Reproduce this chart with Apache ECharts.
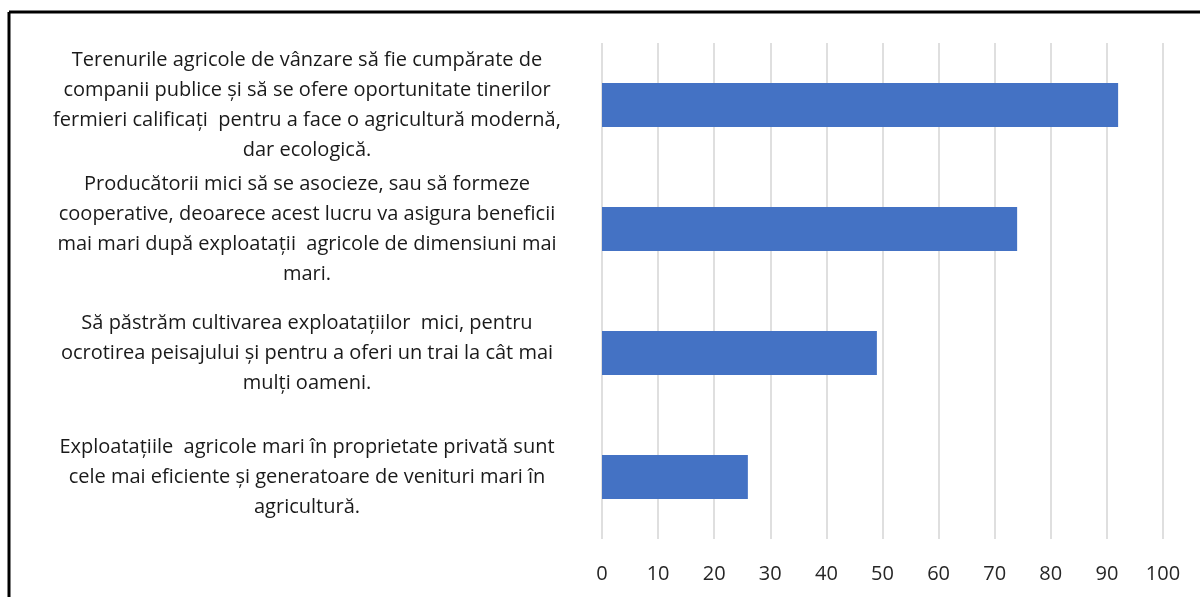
<!DOCTYPE html>
<html>
<head>
<meta charset="utf-8">
<script src="https://cdn.jsdelivr.net/npm/echarts@6/dist/echarts.min.js"></script>
<style>
  html, body { margin: 0; padding: 0; background: #fff; }
  #chart { width: 1200px; height: 597px; }
</style>
</head>
<body>
<div id="chart"></div>
<script>
// categories, top to bottom (line breaks as in the original)
const categories = [
  "Terenurile agricole de vânzare să fie cumpărate de\ncompanii publice și să se ofere oportunitate tinerilor\nfermieri calificați  pentru a face o agricultură modernă,\ndar ecologică.",
  "Producătorii mici să se asocieze, sau să formeze\ncooperative, deoarece acest lucru va asigura beneficii\nmai mari după exploatații  agricole de dimensiuni mai\nmari.",
  "Să păstrăm cultivarea exploatațiilor  mici, pentru\nocrotirea peisajului și pentru a oferi un trai la cât mai\nmulți oameni.",
  "Exploatațiile  agricole mari în proprietate privată sunt\ncele mai eficiente și generatoare de venituri mari în\nagricultură."
];
const values = [92, 74, 49, 26];
const xTicks = { min: 0, max: 100, interval: 10 };

const FONT = "'Open Sans', 'Noto Sans', sans-serif";

const chart = echarts.init(document.getElementById("chart"));
chart.setOption({
  animation: false,
  grid: { left: 602, right: 37, top: 43, bottom: 58 },
  xAxis: {
    type: "value",
    min: xTicks.min,
    max: xTicks.max,
    interval: xTicks.interval,
    axisLine: { show: false },
    axisTick: { show: false },
    axisLabel: { color: "#262626", fontSize: 20, fontFamily: FONT, margin: 25 },
    splitLine: { show: true, lineStyle: { color: "#d4d4d4", width: 1.5 } }
  },
  yAxis: {
    type: "category",
    inverse: true,
    data: categories,
    axisLine: { show: false },
    axisTick: { show: false },
    axisLabel: {
      color: "#1a1a1a",
      fontSize: 20,
      fontFamily: FONT,
      lineHeight: 30,
      align: "center",
      margin: 295
    }
  },
  series: [{
    type: "bar",
    data: values,
    barWidth: 44,
    itemStyle: { color: "#4472C4" }
  }],
  graphic: [
    { type: "line", shape: { x1: 9, y1: 12, x2: 1200, y2: 12 }, style: { stroke: "#000", lineWidth: 3 } },
    { type: "line", shape: { x1: 9, y1: 12, x2: 9, y2: 597 }, style: { stroke: "#000", lineWidth: 3 } }
  ]
});
</script>
</body>
</html>
